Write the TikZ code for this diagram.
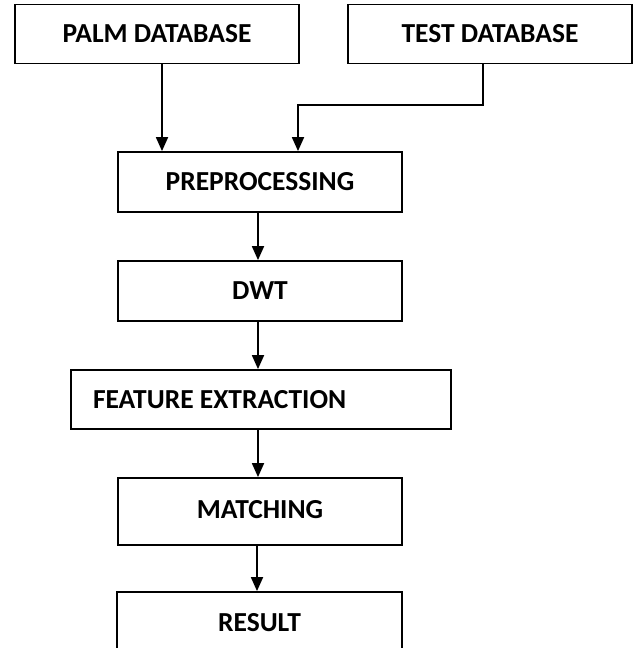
\documentclass[tikz,border=0pt]{standalone}
\usepackage{fontspec}
\setmainfont{Carlito}
\usetikzlibrary{arrows.meta}
\begin{document}
\begin{tikzpicture}[x=1pt,y=-1pt,
  box/.style={draw=black,line width=1.8pt,minimum width=#1,minimum height=59pt,inner sep=0pt,font=\bfseries\fontsize{27.5}{30}\selectfont},
  arr/.style={line width=1.8pt,-{Triangle[width=12pt,length=14pt]}}]
\useasboundingbox (0,0) rectangle (635,648);
\node[box=284pt] (palm) at (157,34) {PALM DATABASE};
\node[box=284pt] (test) at (490,34) {TEST DATABASE};
\node[box=284pt,minimum height=60pt] (prep) at (260,182) {PREPROCESSING};
\node[box=284pt,minimum height=60pt] (dwt) at (260,291) {DWT};
\node[box=380pt] (feat) at (261,399.5) {\makebox[336pt][l]{FEATURE EXTRACTION}};
\node[box=284pt,minimum height=67pt] (match) at (260,511.5) {\raisebox{4pt}{MATCHING}};
\node[box=285pt,minimum height=62pt] (res) at (259.5,623) {RESULT};
\coordinate (bend) at (483,105);
\draw[arr] (palm.south -| 162,0) -- (prep.north -| 162,0);
\draw[arr] (test.south -| bend) -- (bend) -| (prep.north -| 298,0);
\draw[arr] (prep.south -| 258,0) -- (dwt.north -| 258,0);
\draw[arr] (dwt.south -| 258,0) -- (feat.north -| 258,0);
\draw[arr] (feat.south -| 258,0) -- (match.north -| 258,0);
\draw[arr] (match.south -| 257,0) -- (res.north -| 257,0);
\end{tikzpicture}
\end{document}
